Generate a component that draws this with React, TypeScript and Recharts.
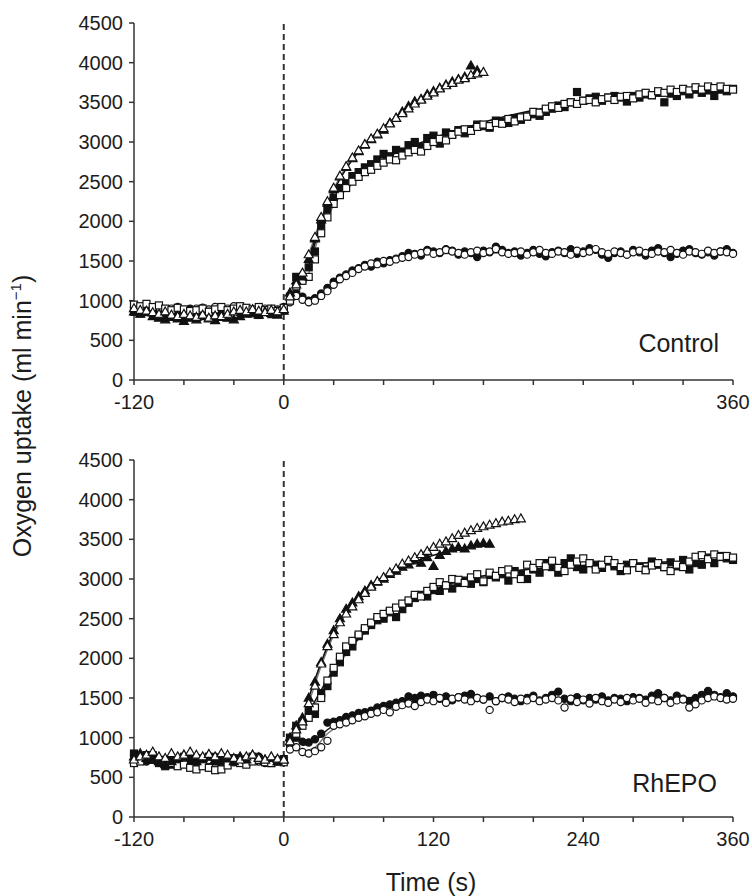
import React from 'react';
import { ComposedChart, Scatter, Line, XAxis, YAxis, ReferenceLine } from 'recharts';

// ---------- shared axes ----------
const TIME = [
  -120, -115, -110, -105, -100, -95, -90, -85, -80, -75, -70, -65, -60, -55, -50, -45, -40, -35, -30, -25, -20, -15, -10, -5, 0,
  5, 10, 15, 20, 25, 30, 35, 40, 45, 50, 55, 60,
  65, 70, 75, 80, 85, 90, 95, 100, 105, 110, 115, 120,
  125, 130, 135, 140, 145, 150, 155, 160, 165, 170, 175, 180,
  185, 190, 195, 200, 205, 210, 215, 220, 225, 230, 235, 240,
  245, 250, 255, 260, 265, 270, 275, 280, 285, 290, 295, 300,
  305, 310, 315, 320, 325, 330, 335, 340, 345, 350, 355, 360,
];
const X_TICKS = [-120, -80, -40, 0, 40, 80, 120, 160, 200, 240, 280, 320, 360];
const Y_TICKS = [0, 500, 1000, 1500, 2000, 2500, 3000, 3500, 4000, 4500];
const TOP_X_LABELS = [-120, 0, 360];
const BOTTOM_X_LABELS = [-120, 0, 120, 240, 360];

// ---------- Control panel ----------
const C_MOD_FILLED = [
  880, 860, 910, 870, 840, 890, 860, 830, 870, 900, 850, 880, 860, 890, 840, 870, 900, 880, 850, 860, 890, 870, 840, 880, 900,
  1020, 1100, 1050, 1000, 1030, 1090, 1160, 1240, 1290, 1330, 1380, 1410,
  1450, 1430, 1490, 1470, 1510, 1530, 1560, 1600, 1590, 1570, 1640, 1620,
  1600, 1650, 1630, 1580, 1620, 1600, 1550, 1630, 1610, 1680, 1640, 1600,
  1620, 1570, 1600, 1640, 1590, 1560, 1610, 1630, 1600, 1650, 1590, 1620,
  1660, 1640, 1580, 1540, 1600, 1620, 1580, 1640, 1610, 1570, 1630, 1660,
  1600, 1550, 1590, 1630, 1650, 1600, 1580, 1610, 1570, 1620, 1650, 1600,
];
const C_MOD_OPEN = [
  920, 900, 930, 890, 910, 880, 900, 920, 880, 870, 900, 910, 890, 920, 880, 900, 930, 910, 890, 880, 910, 900, 880, 890, 920,
  980, 1060, 1010, 980, 1000, 1060, 1120, 1200, 1270, 1310, 1350, 1400,
  1430, 1470, 1460, 1500, 1490, 1520, 1540, 1550, 1580, 1600, 1620, 1590,
  1610, 1640, 1620, 1600, 1580, 1610, 1630, 1600, 1620, 1650, 1610, 1590,
  1600, 1620, 1580, 1610, 1640, 1600, 1590, 1620, 1610, 1580, 1630, 1600,
  1620, 1650, 1610, 1590, 1620, 1600, 1580, 1610, 1630, 1600, 1590, 1620,
  1610, 1640, 1600, 1580, 1620, 1610, 1590, 1630, 1600, 1620, 1610, 1590,
];
const C_HEAVY_FILLED = [
  860, 840, 880, 850, 820, 800, 840, 810, 790, 830, 800, 820, 860, 840, 870, 850, 880, 860, 890, 840, 820, 860, 830, 850, 880,
  1050, 1300, 1280, 1420, 1620, 1950, 2150, 2300, 2420, 2480, 2570, 2620,
  2680, 2720, 2780, 2850, 2820, 2900, 2880, 2960, 3000, 2940, 3050, 3080,
  2980, 3120, 3100, 3150, 3110, 3160, 3220, 3200, 3180, 3270, 3250, 3240,
  3300, 3280, 3320, 3350, 3330, 3380, 3420, 3460, 3440, 3500, 3630, 3520,
  3550, 3570, 3520, 3560, 3580, 3560, 3510, 3580, 3560, 3600, 3590, 3620,
  3500, 3610, 3580, 3640, 3600, 3660, 3620, 3650, 3580, 3660, 3640, 3670,
];
const C_HEAVY_OPEN = [
  950, 930, 960, 920, 940, 900, 880, 910, 890, 870, 880, 900, 860, 890, 920, 880, 900, 930, 910, 890, 920, 880, 900, 870, 910,
  1000, 1180, 1250, 1300, 1520, 1850, 2050, 2220, 2330, 2420, 2500, 2560,
  2620, 2650, 2700, 2740, 2780, 2770, 2830, 2870, 2900, 2880, 2950, 3000,
  3040, 3020, 3090, 3130, 3160, 3140, 3190, 3220, 3200, 3240, 3230, 3290,
  3260, 3310, 3320, 3380, 3370, 3420, 3450, 3430, 3480, 3500, 3480, 3520,
  3530, 3500, 3540, 3560, 3530, 3570, 3580, 3550, 3600, 3620, 3590, 3640,
  3620, 3660, 3630, 3670, 3650, 3690, 3660, 3700, 3680, 3700, 3670, 3660,
];
const C_SEV_FILLED = [
  860, 830, 850, 800, 780, 760, 790, 770, 740, 780, 760, 800, 770, 750, 790, 780, 760, 800, 830, 850, 820, 860, 840, 820, 870,
  1100, 1250, 1300, 1520, 1780, 2020, 2230, 2400, 2560, 2680, 2790, 2880,
  2960, 3030, 3090, 3150, 3240, 3300, 3380, 3450, 3510, 3540, 3600, 3640,
  3680, 3720, 3760, 3790, 3820, 3960, 3900,
];
const C_SEV_OPEN = [
  900, 880, 870, 850, 830, 860, 820, 800, 830, 810, 790, 820, 780, 810, 800, 830, 860, 880, 860, 890, 870, 850, 880, 860, 890,
  1050, 1200, 1350, 1580, 1800, 2050, 2250, 2420, 2570, 2690, 2800, 2890,
  2970, 3040, 3100, 3170, 3230, 3300, 3360, 3420, 3480, 3530, 3580, 3620,
  3670, 3710, 3740, 3780, 3800, 3840, 3860, 3880,
];
// Control model fits
const C_FIT_SEV_T = [20, 30, 40, 50, 60, 80, 100, 120, 140, 160];
const C_FIT_SEV_A = [1520, 2000, 2380, 2660, 2880, 3190, 3430, 3620, 3770, 3900];
const C_FIT_SEV_B = [1580, 2040, 2410, 2690, 2900, 3190, 3420, 3600, 3750, 3880];
const C_FIT_HEAVY_T = [20, 25, 30, 40, 50, 60, 80, 100, 120, 160, 200, 240, 280, 320, 360];
const C_FIT_HEAVY_A = [1420, 1720, 1960, 2280, 2470, 2600, 2790, 2930, 3050, 3250, 3400, 3510, 3580, 3630, 3670];
const C_FIT_HEAVY_B = [1330, 1650, 1880, 2200, 2400, 2540, 2730, 2870, 2990, 3210, 3380, 3490, 3570, 3620, 3660];
const C_FIT_MOD_T = [15, 25, 35, 45, 60, 80, 100, 120, 160, 220, 360];
const C_FIT_MOD_A = [1000, 1040, 1150, 1270, 1410, 1510, 1565, 1590, 1605, 1610, 1612];
const C_FIT_MOD_B = [990, 1010, 1110, 1240, 1390, 1500, 1560, 1590, 1605, 1610, 1612];

// ---------- RhEPO panel ----------
const R_MOD_FILLED = [
  780, 740, 700, 760, 720, 680, 740, 700, 760, 720, 690, 740, 710, 760, 730, 700, 740, 720, 690, 740, 760, 710, 690, 720, 700,
  900, 1000, 950, 940, 980, 1050, 1190, 1200, 1220, 1260, 1280, 1310,
  1320, 1340, 1380, 1400, 1420, 1440, 1460, 1520, 1500, 1530, 1510, 1540,
  1490, 1520, 1470, 1510, 1530, 1550, 1500, 1480, 1520, 1460, 1500, 1520,
  1490, 1460, 1500, 1530, 1470, 1500, 1540, 1580, 1490, 1460, 1510, 1470,
  1500, 1480, 1520, 1470, 1500, 1490, 1460, 1510, 1500, 1480, 1530, 1560,
  1500, 1470, 1530, 1490, 1460, 1500, 1540, 1590, 1540, 1510, 1560, 1520,
];
const R_MOD_OPEN = [
  700, 720, 760, 740, 700, 720, 680, 700, 740, 720, 700, 690, 720, 740, 700, 720, 690, 710, 740, 720, 700, 680, 720, 700, 720,
  850, 880, 820, 800, 830, 880, 960, 1150, 1170, 1190, 1220, 1250,
  1270, 1300, 1320, 1350, 1320, 1390, 1410, 1430, 1400, 1450, 1480, 1460,
  1500, 1440, 1490, 1510, 1480, 1460, 1500, 1480, 1350, 1460, 1500, 1480,
  1450, 1490, 1470, 1500, 1460, 1480, 1500, 1470, 1380, 1490, 1450, 1480,
  1430, 1500, 1460, 1440, 1480, 1450, 1500, 1470, 1490, 1440, 1480, 1460,
  1500, 1440, 1470, 1480, 1380, 1420, 1470, 1500, 1520, 1500, 1480, 1490,
];
const R_HEAVY_FILLED = [
  800, 760, 780, 720, 680, 640, 660, 700, 760, 680, 740, 720, 760, 700, 680, 720, 740, 700, 690, 760, 730, 700, 680, 710, 730,
  1000, 1150, 1200, 1340, 1300, 1560, 1650, 1820, 1950, 2080, 2150, 2280,
  2350, 2420, 2480, 2500, 2580, 2520, 2620, 2700, 2760, 2800, 2780, 2860,
  2850, 2920, 2880, 2950, 2980, 2940, 3000, 2960, 3050, 3020, 3060, 2980,
  3100, 3060, 3000, 3120, 3080, 3200, 3150, 3080, 3200, 3260, 3150, 3120,
  3200, 3180, 3140, 3220, 3160, 3100, 3180, 3200, 3150, 3120, 3220, 3180,
  3150, 3210, 3160, 3240, 3120, 3200, 3180, 3270, 3200, 3290, 3260, 3240,
];
const R_HEAVY_OPEN = [
  680, 700, 740, 780, 720, 700, 680, 640, 660, 620, 600, 640, 620, 590, 600, 650, 700, 680, 660, 700, 720, 690, 680, 700, 690,
  950, 1050, 1150, 1250, 1380, 1500, 1720, 1880, 2020, 2150, 2220, 2300,
  2380, 2450, 2520, 2560, 2600, 2640, 2690, 2730, 2800, 2780, 2850, 2900,
  2960, 2920, 3000, 2990, 2950, 3020, 3060, 2970, 3080, 3040, 3100, 3120,
  3060, 3000, 3180, 3140, 3200, 3160, 3230, 3140, 3100, 3180, 3220, 3260,
  3200, 3120, 3180, 3240, 3200, 3150, 3110, 3200, 3140, 3110, 3170, 3200,
  3150, 3100, 3180, 3150, 3220, 3280, 3300, 3250, 3310, 3280, 3290, 3270,
];
const R_SEV_FILLED = [
  760, 800, 740, 780, 700, 660, 700, 740, 780, 760, 700, 740, 780, 720, 760, 740, 700, 760, 720, 780, 750, 720, 740, 700, 720,
  1000, 1150, 1250, 1500, 1700, 1950, 2180, 2350, 2500, 2620, 2700, 2780,
  2850, 2920, 2960, 3000, 3060, 3100, 3150, 3180, 3230, 3200, 3270, 3160,
  3300, 3350, 3380, 3400, 3380, 3420, 3440, 3450, 3440,
];
const R_SEV_OPEN = [
  720, 760, 780, 820, 760, 740, 800, 760, 780, 820, 780, 760, 790, 760, 800, 780, 740, 720, 760, 780, 740, 720, 760, 730, 720,
  950, 1100, 1200, 1430, 1650, 1930, 2150, 2300, 2450, 2560, 2650, 2740,
  2820, 2900, 2970, 3020, 3080, 3130, 3190, 3230, 3270, 3310, 3350, 3400,
  3440, 3470, 3510, 3550, 3580, 3610, 3640, 3660, 3680, 3700, 3720, 3730,
  3750, 3760,
];
// RhEPO model fits
const R_FIT_SEV_A_T = [20, 30, 40, 50, 60, 80, 100, 120, 140, 165];
const R_FIT_SEV_A = [1500, 1950, 2330, 2600, 2790, 3030, 3190, 3300, 3380, 3440];
const R_FIT_SEV_B_T = [20, 30, 40, 60, 80, 100, 120, 140, 160, 190];
const R_FIT_SEV_B = [1430, 1900, 2290, 2760, 3040, 3240, 3400, 3530, 3640, 3760];
const R_FIT_HEAVY_T = [20, 30, 40, 50, 60, 80, 100, 120, 140, 180, 240, 300, 360];
const R_FIT_HEAVY_A = [1320, 1600, 1860, 2070, 2250, 2530, 2730, 2870, 2970, 3090, 3170, 3210, 3240];
const R_FIT_HEAVY_B = [1280, 1560, 1830, 2050, 2240, 2520, 2720, 2860, 2960, 3090, 3170, 3210, 3240];
const R_FIT_MOD_T = [15, 25, 35, 50, 70, 90, 110, 140, 200, 360];
const R_FIT_MOD_A = [900, 960, 1100, 1240, 1350, 1420, 1460, 1490, 1500, 1505];
const R_FIT_MOD_B = [830, 880, 1050, 1200, 1320, 1400, 1450, 1480, 1495, 1500];

// ---------- helpers ----------
const FONT = '"Liberation Sans", Arial, Helvetica, sans-serif';
const INK = '#1c1c1c';

const toPts = (times: number[], vals: number[]) =>
  vals.slice(0, times.length).map((v, i) => ({ t: times[i], v }));

const mkShape = (kind: string, filled: boolean) => (props: any) => {
  const { cx, cy } = props;
  if (cx == null || cy == null || isNaN(cx) || isNaN(cy)) return <g />;
  const st = { fill: filled ? '#111' : '#fff', stroke: '#111', strokeWidth: 1.2 };
  if (kind === 'circle') return <circle cx={cx} cy={cy} r={3.6} {...st} />;
  if (kind === 'square') return <rect x={cx - 3.5} y={cy - 3.5} width={7} height={7} {...st} />;
  return <polygon points={`${cx},${cy - 4.8} ${cx + 4.5},${cy + 3.1} ${cx - 4.5},${cy + 3.1}`} {...st} />;
};

type SeriesDef = { name: string; pts: { t: number; v: number }[]; kind: string; filled: boolean };
type FitDef = { name: string; pts: { t: number; v: number }[]; color: string; width: number };

const CONTROL_SERIES: SeriesDef[] = [
  { name: 'mod-f', pts: toPts(TIME, C_MOD_FILLED), kind: 'circle', filled: true },
  { name: 'mod-o', pts: toPts(TIME, C_MOD_OPEN), kind: 'circle', filled: false },
  { name: 'hv-f', pts: toPts(TIME, C_HEAVY_FILLED), kind: 'square', filled: true },
  { name: 'hv-o', pts: toPts(TIME, C_HEAVY_OPEN), kind: 'square', filled: false },
  { name: 'sv-f', pts: toPts(TIME, C_SEV_FILLED), kind: 'triangle', filled: true },
  { name: 'sv-o', pts: toPts(TIME, C_SEV_OPEN), kind: 'triangle', filled: false },
];
const CONTROL_FITS: FitDef[] = [
  { name: 'f1', pts: toPts(C_FIT_MOD_T, C_FIT_MOD_B), color: '#777', width: 1.3 },
  { name: 'f2', pts: toPts(C_FIT_MOD_T, C_FIT_MOD_A), color: '#111', width: 1.5 },
  { name: 'f3', pts: toPts(C_FIT_HEAVY_T, C_FIT_HEAVY_B), color: '#777', width: 1.3 },
  { name: 'f4', pts: toPts(C_FIT_HEAVY_T, C_FIT_HEAVY_A), color: '#111', width: 1.5 },
  { name: 'f5', pts: toPts(C_FIT_SEV_T, C_FIT_SEV_B), color: '#777', width: 1.3 },
  { name: 'f6', pts: toPts(C_FIT_SEV_T, C_FIT_SEV_A), color: '#111', width: 1.5 },
];
const RHEPO_SERIES: SeriesDef[] = [
  { name: 'mod-f', pts: toPts(TIME, R_MOD_FILLED), kind: 'circle', filled: true },
  { name: 'mod-o', pts: toPts(TIME, R_MOD_OPEN), kind: 'circle', filled: false },
  { name: 'hv-f', pts: toPts(TIME, R_HEAVY_FILLED), kind: 'square', filled: true },
  { name: 'hv-o', pts: toPts(TIME, R_HEAVY_OPEN), kind: 'square', filled: false },
  { name: 'sv-f', pts: toPts(TIME, R_SEV_FILLED), kind: 'triangle', filled: true },
  { name: 'sv-o', pts: toPts(TIME, R_SEV_OPEN), kind: 'triangle', filled: false },
];
const RHEPO_FITS: FitDef[] = [
  { name: 'f1', pts: toPts(R_FIT_MOD_T, R_FIT_MOD_B), color: '#777', width: 1.3 },
  { name: 'f2', pts: toPts(R_FIT_MOD_T, R_FIT_MOD_A), color: '#111', width: 1.5 },
  { name: 'f3', pts: toPts(R_FIT_HEAVY_T, R_FIT_HEAVY_B), color: '#777', width: 1.3 },
  { name: 'f4', pts: toPts(R_FIT_HEAVY_T, R_FIT_HEAVY_A), color: '#111', width: 1.5 },
  { name: 'f5', pts: toPts(R_FIT_SEV_B_T, R_FIT_SEV_B), color: '#777', width: 1.3 },
  { name: 'f6', pts: toPts(R_FIT_SEV_A_T, R_FIT_SEV_A), color: '#111', width: 1.6 },
];

function Panel({ top, series, fits, labels }: { top: number; series: SeriesDef[]; fits: FitDef[]; labels: number[] }) {
  const tickStyle = { fontSize: 20, fill: INK, fontFamily: FONT };
  return (
    <div style={{ position: 'absolute', left: 0, top }}>
      <ComposedChart width={752} height={420} margin={{ top: 23, right: 19, bottom: 10, left: 64 }}>
        <XAxis
          dataKey="t"
          type="number"
          domain={[-120, 360]}
          ticks={X_TICKS}
          interval={0}
          tickSize={5}
          tickMargin={10}
          tick={tickStyle}
          tickFormatter={(v: number) => (labels.includes(v) ? String(v) : '')}
          axisLine={{ stroke: '#333', strokeWidth: 1.5 }}
          tickLine={{ stroke: '#333', strokeWidth: 1.5 }}
          allowDuplicatedCategory={false}
        />
        <YAxis
          dataKey="v"
          type="number"
          domain={[0, 4500]}
          ticks={Y_TICKS}
          interval={0}
          width={70}
          tickSize={5}
          tickMargin={6}
          tick={tickStyle}
          axisLine={{ stroke: '#333', strokeWidth: 1.5 }}
          tickLine={{ stroke: '#333', strokeWidth: 1.5 }}
        />
        <ReferenceLine x={0} stroke="#333" strokeWidth={2} strokeDasharray="6 4" />
        {series.map((s) => (
          <Scatter
            key={s.name}
            name={s.name}
            data={s.pts}
            dataKey="v"
            shape={mkShape(s.kind, s.filled)}
            isAnimationActive={false}
          />
        ))}
        {fits.map((f) => (
          <Line
            key={f.name}
            name={f.name}
            data={f.pts}
            dataKey="v"
            type="monotone"
            stroke={f.color}
            strokeWidth={f.width}
            dot={false}
            activeDot={false}
            isAnimationActive={false}
          />
        ))}
      </ComposedChart>
    </div>
  );
}

export default function App() {
  return (
    <div style={{ position: 'absolute', left: 0, top: 0, width: 752, height: 896, background: '#fff', fontFamily: FONT }}>
      <Panel top={0} series={CONTROL_SERIES} fits={CONTROL_FITS} labels={TOP_X_LABELS} />
      <Panel top={437} series={RHEPO_SERIES} fits={RHEPO_FITS} labels={BOTTOM_X_LABELS} />
      <svg width={752} height={896} style={{ position: 'absolute', left: 0, top: 0, pointerEvents: 'none' }}>
        <text
          x={31}
          y={416}
          transform="rotate(-90 31 416)"
          textAnchor="middle"
          fontSize={25}
          fill={INK}
          fontFamily={FONT}
        >
          Oxygen uptake (ml min
          <tspan fontSize={15} dy={-10}>−1</tspan>
          <tspan dy={10}>)</tspan>
        </text>
        <text x={431} y={891} textAnchor="middle" fontSize={25} fill={INK} fontFamily={FONT}>
          Time (s)
        </text>
        <text x={719} y={352} textAnchor="end" fontSize={25} fill={INK} fontFamily={FONT}>
          Control
        </text>
        <text x={717} y={792} textAnchor="end" fontSize={25} fill={INK} fontFamily={FONT}>
          RhEPO
        </text>
      </svg>
    </div>
  );
}
